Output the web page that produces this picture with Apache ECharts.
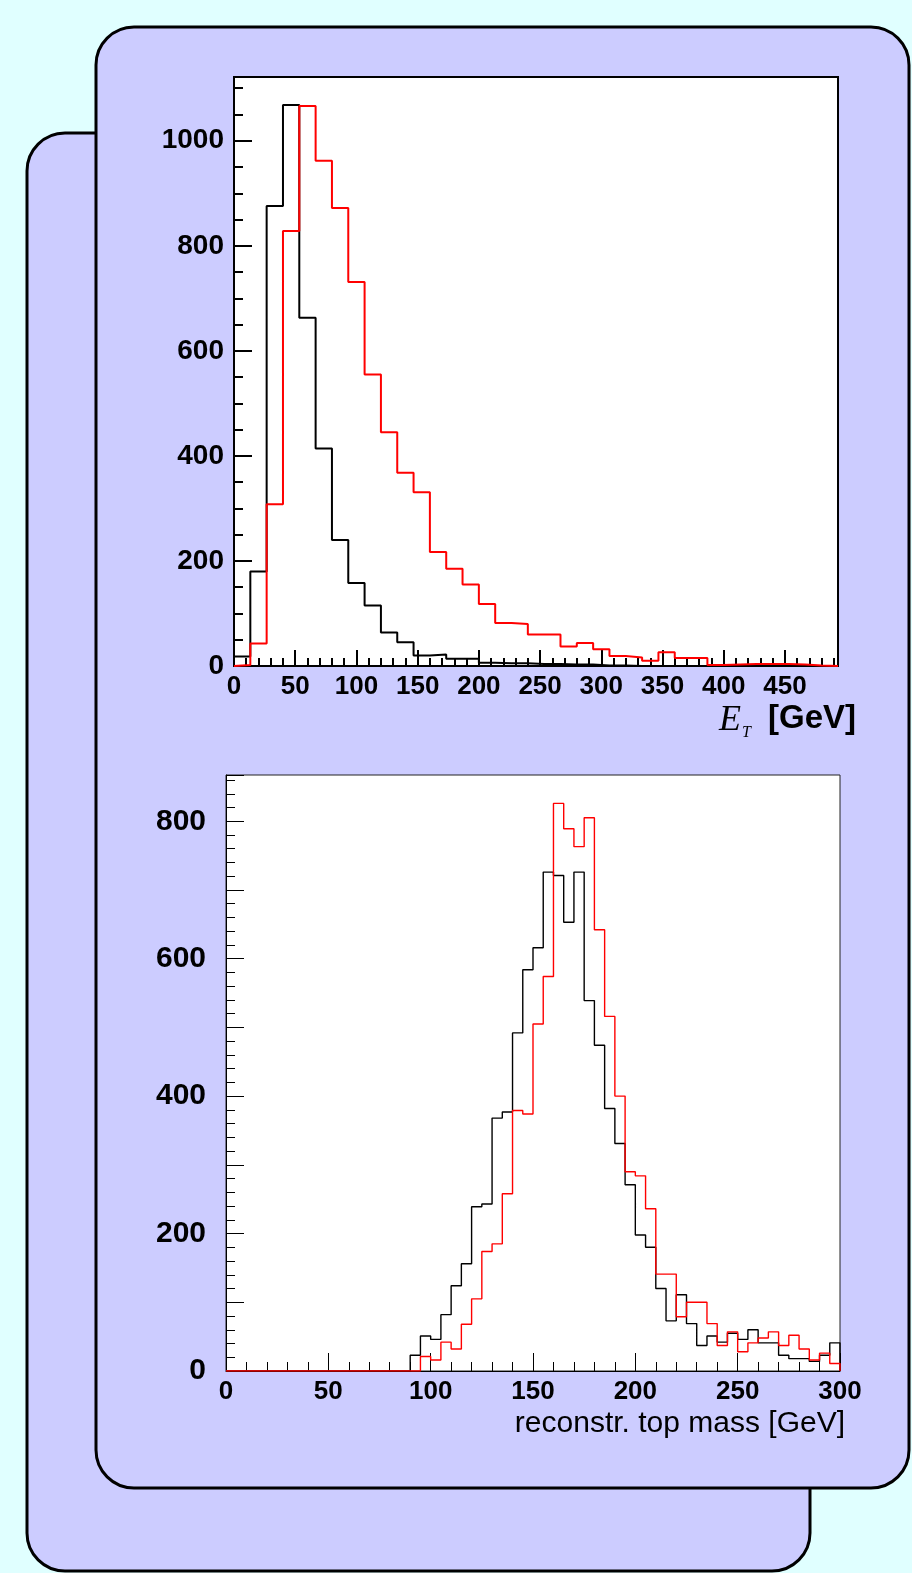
<!DOCTYPE html>
<html>
<head>
<meta charset="utf-8">
<script src="https://cdn.jsdelivr.net/npm/echarts@6/dist/echarts.min.js"></script>
<style>
html,body{margin:0;padding:0;background:#e0ffff;}
#c{width:912px;height:1573px;}
</style>
</head>
<body>
<div id="c"></div>
<script>
// ---------- DATA ----------
// Top histogram: E_T [GeV], 37 bins of width 13.33 GeV starting at 0
const etBinWidth = 40 / 3;
const etBlack = [18, 180, 876, 1068, 663, 414, 240, 158, 115, 64, 45, 20, 22, 14, 14, 6, 5, 5, 4, 4, 3, 3, 1, 1, 0, 0, 0, 0, 0, 0, 0, 0, 0, 0, 0, 0, 0];
const etRed = [2, 43, 308, 828, 1066, 962, 872, 731, 555, 445, 368, 331, 217, 185, 155, 118, 82, 80, 60, 60, 37, 44, 32, 19, 16, 10, 26, 15, 15, 2, 3, 4, 4, 4, 3, 1, 0];
const etXLabels = [0, 50, 100, 150, 200, 250, 300, 350, 400, 450];
const etYLabels = [0, 200, 400, 600, 800, 1000];

// Bottom histogram: reconstructed top mass [GeV], 60 bins of width 5 GeV from 0 to 300
const mBinWidth = 5;
const mBlack = [0, 0, 0, 0, 0, 0, 0, 0, 0, 0, 0, 0, 0, 0, 0, 0, 0, 0,
  23, 51, 46, 82, 124, 156, 239, 243, 368, 377, 492, 584, 616, 726, 721, 653, 726, 539, 474, 382, 331, 271,
  198, 180, 120, 73, 111, 69, 37, 51, 42, 55, 46, 60, 41, 41, 23, 18, 18, 14, 23, 41];
const mRed = [0, 0, 0, 0, 0, 0, 0, 0, 0, 0, 0, 0, 0, 0, 0, 0, 0, 0,
  0, 21, 16, 42, 32, 68, 105, 174, 185, 258, 379, 374, 505, 574, 826, 789, 763, 805, 642, 516, 400, 290,
  284, 236, 141, 141, 79, 100, 100, 69, 37, 57, 28, 41, 48, 57, 37, 52, 32, 16, 26, 11];
const mXLabels = [0, 50, 100, 150, 200, 250, 300];
const mYLabels = [0, 200, 400, 600, 800];

// ---------- BUILD ----------
const SANS = "'Liberation Sans', Arial, Helvetica, sans-serif";
const SERIF = "'Liberation Serif', 'Times New Roman', serif";

function steps(vals, w) {
  const pts = [[0, 0]];
  vals.forEach((v, i) => pts.push([i * w, v]));
  pts.push([vals.length * w, vals[vals.length - 1]]);
  pts.push([vals.length * w, 0]);
  return pts;
}

const etXMax = etBlack.length * etBinWidth;
const etYMax = Math.max(...etBlack, ...etRed) * 1.05;
const mXMax = mBlack.length * mBinWidth;
const mYMax = Math.max(...mBlack, ...mRed) * 1.05;

function labFmt(list) { return v => (list.indexOf(Math.round(v * 1000) / 1000) >= 0 ? String(v) : ''); }

function xAx(grid, max, interval, len, lw, labels, fs, major) {
  return {
    gridIndex: grid, type: 'value', min: 0, max: max, interval: interval, position: 'bottom',
    axisLine: { show: major, onZero: false, lineStyle: { color: '#000', width: lw } },
    axisTick: { show: true, inside: true, length: len, lineStyle: { color: '#000', width: lw } },
    axisLabel: { show: major, margin: 8, color: '#000', fontFamily: SANS, fontWeight: 'bold', fontSize: fs,
      formatter: labels ? labFmt(labels) : '' },
    splitLine: { show: false }, minorTick: { show: false }
  };
}
function yAx(grid, max, interval, len, lw, labels, fs, margin, major) {
  return {
    gridIndex: grid, type: 'value', min: 0, max: max, interval: interval, position: 'left',
    axisLine: { show: major, onZero: false, lineStyle: { color: '#000', width: lw } },
    axisTick: { show: true, inside: true, length: len, lineStyle: { color: '#000', width: lw } },
    axisLabel: { show: major, margin: margin, color: '#000', fontFamily: SANS, fontWeight: 'bold', fontSize: fs,
      formatter: labels ? labFmt(labels) : '' },
    splitLine: { show: false }, minorTick: { show: false }
  };
}

const chart = echarts.init(document.getElementById('c'), null, { renderer: 'canvas', width: 912, height: 1573 });

const option = {
  backgroundColor: '#e0ffff',
  animation: false,
  grid: [
    { left: 234, top: 77, width: 604, height: 589, show: true, backgroundColor: '#ffffff', borderColor: '#000', borderWidth: 2, outerBoundsMode: 'none' },
    { left: 226, top: 775, width: 614, height: 596, show: true, backgroundColor: '#ffffff', borderColor: '#222', borderWidth: 1, outerBoundsMode: 'none' }
  ],
  xAxis: [
    xAx(0, etXMax, 50, 16, 2, etXLabels, 26, true),
    xAx(0, etXMax, 10, 8, 2, null, 26, false),
    xAx(1, mXMax, 50, 18, 1, mXLabels, 26, true),
    xAx(1, mXMax, 10, 9, 1, null, 26, false)
  ],
  yAxis: [
    yAx(0, etYMax, 200, 18, 2, etYLabels, 28, 10, true),
    yAx(0, etYMax, 50, 9, 2, null, 28, 10, false),
    yAx(1, mYMax, 100, 18, 1, mYLabels, 30, 20, true),
    yAx(1, mYMax, 20, 9, 1, null, 30, 20, false)
  ],
  series: [
    { type: 'line', name: 'et-black', xAxisIndex: 0, yAxisIndex: 0, step: 'end', data: steps(etBlack, etBinWidth),
      symbol: 'none', lineStyle: { color: '#000', width: 2 }, z: 3 },
    { type: 'line', name: 'et-red', xAxisIndex: 0, yAxisIndex: 0, step: 'end', data: steps(etRed, etBinWidth),
      symbol: 'none', lineStyle: { color: '#ff0000', width: 2 }, z: 4 },
    { type: 'line', name: 'm-black', xAxisIndex: 2, yAxisIndex: 2, step: 'end', data: steps(mBlack, mBinWidth),
      symbol: 'none', lineStyle: { color: '#000', width: 1.4 }, z: 3 },
    { type: 'line', name: 'm-red', xAxisIndex: 2, yAxisIndex: 2, step: 'end', data: steps(mRed, mBinWidth),
      symbol: 'none', lineStyle: { color: '#ff0000', width: 1.4 }, z: 4 }
  ],
  graphic: {
    elements: [
      { type: 'rect', z: -100, shape: { x: 27, y: 133, width: 783, height: 1438, r: 38 },
        style: { fill: '#ccccff', stroke: '#000', lineWidth: 3 } },
      { type: 'rect', z: -99, shape: { x: 96, y: 27, width: 813, height: 1461, r: 38 },
        style: { fill: '#ccccff', stroke: '#000', lineWidth: 3 } },
      { type: 'text', z: 10, x: 719, y: 721,
        style: { text: 'E', fill: '#000', fontFamily: SERIF, fontStyle: 'italic', fontSize: 36, align: 'left', verticalAlign: 'middle' } },
      { type: 'text', z: 10, x: 742, y: 733,
        style: { text: 'T', fill: '#000', fontFamily: SERIF, fontStyle: 'italic', fontSize: 16, align: 'left', verticalAlign: 'middle' } },
      { type: 'text', z: 10, x: 856, y: 719,
        style: { text: '[GeV]', fill: '#000', fontFamily: SANS, fontWeight: 'bold', fontSize: 33, align: 'right', verticalAlign: 'middle' } },
      { type: 'text', z: 10, x: 845, y: 1424,
        style: { text: 'reconstr. top mass [GeV]', fill: '#000', fontFamily: SANS, fontSize: 30, align: 'right', verticalAlign: 'middle' } }
    ]
  }
};
chart.setOption(option);
</script>
</body>
</html>
